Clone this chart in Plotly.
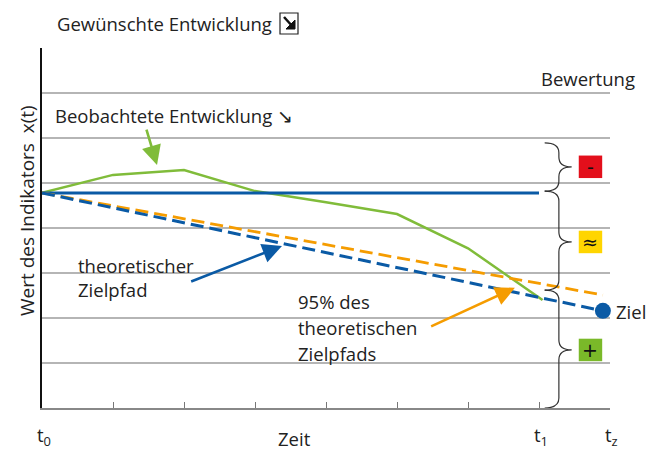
import plotly.graph_objects as go

# ---- data ----
time_obs = [0, 1, 2, 3, 4, 5, 6, 7.05]
observed = [4.78, 5.18, 5.29, 4.82, 4.57, 4.31, 3.55, 2.4]
baseline_x = [0, 7]
baseline_y = [4.78, 4.78]
target_x = [0, 7.9]
target_y = [4.78, 2.16]
target95_y = [4.78, 2.51]
grid_levels = [1, 2, 3, 4, 5, 6, 7, 8]
time_ticks = [0, 1, 2, 3, 4, 5, 6, 7, 8]
brace_ranges = [(5.89, 4.82, 5.36), (4.82, 2.62, 3.69), (2.62, 0.0, 1.29)]
rating_labels = ["-", "≈", "+"]
rating_colors = ["#e30f1b", "#ffd500", "#7ab929"]

FONT = "Open Sans"
FS = 18.5
TXT = "#222222"
BLUE = "#0a5aa5"
GREEN = "#80bc3a"
ORANGE = "#f59c00"

# page has an 8px body margin: convert page pixels to paper coords
OFF = 8
L, T, PW, PH = 42 - OFF, 48 - OFF, 568, 360


def px(xp):
    return (xp - OFF - L) / PW


def py(yp):
    return (T + PH - (yp - OFF)) / PH


fig = go.Figure()

fig.add_trace(go.Scatter(x=time_obs, y=observed, mode="lines",
                         line=dict(color=GREEN, width=2.5), hoverinfo="skip"))
fig.add_trace(go.Scatter(x=baseline_x, y=baseline_y, mode="lines",
                         line=dict(color=BLUE, width=3), hoverinfo="skip"))
fig.add_trace(go.Scatter(x=target_x, y=target95_y, mode="lines",
                         line=dict(color=ORANGE, width=2.8, dash="13px,6px"), hoverinfo="skip"))
fig.add_trace(go.Scatter(x=target_x, y=target_y, mode="lines",
                         line=dict(color=BLUE, width=3, dash="13px,6px"), hoverinfo="skip"))
fig.add_trace(go.Scatter(x=[target_x[-1]], y=[target_y[-1]], mode="markers",
                         marker=dict(color=BLUE, size=16), cliponaxis=False, hoverinfo="skip"))

shapes = []
# braces
xl, xs, xt, r = 7.08, 7.28, 7.46, 0.22
for (ytop, ybot, ymid) in brace_ranges:
    path = (f"M {xl},{ytop} Q {xs},{ytop} {xs},{ytop - r} L {xs},{ymid + r} "
            f"Q {xs},{ymid} {xt},{ymid} Q {xs},{ymid} {xs},{ymid - r} "
            f"L {xs},{ybot + r} Q {xs},{ybot} {xl},{ybot}")
    shapes.append(dict(type="path", path=path, xref="x", yref="y",
                       line=dict(color="#333333", width=1.2)))

annotations = []
# rating boxes
bw, bh = 0.33, 0.5
for (ytop, ybot, ymid), lab, col in zip(brace_ranges, rating_labels, rating_colors):
    shapes.append(dict(type="rect", xref="x", yref="y", x0=7.56, x1=7.56 + bw,
                       y0=ymid - bh / 2, y1=ymid + bh / 2, fillcolor=col, line=dict(width=0)))
    annotations.append(dict(x=7.56 + bw / 2, y=ymid, xref="x", yref="y", text=lab,
                            showarrow=False, font=dict(family="DejaVu Sans", size=19, color="#111")))

# icon box next to title (box + bold down-right arrow)
shapes.append(dict(type="rect", xref="paper", yref="paper",
                   x0=px(280), x1=px(298), y0=py(34), y1=py(13),
                   line=dict(color="#222", width=1.2), fillcolor="white"))
shapes.append(dict(type="path", xref="paper", yref="paper",
                   path=f"M {px(284)},{py(17)} L {px(293)},{py(27)}",
                   line=dict(color="#111", width=2.5)))
shapes.append(dict(type="path", xref="paper", yref="paper",
                   path=f"M {px(295)},{py(29)} L {px(295)},{py(20)} L {px(286)},{py(29)} Z",
                   fillcolor="#111", line=dict(color="#111", width=1)))


def ann(text, xp, yp, xanchor="left", size=FS, **kw):
    annotations.append(dict(xref="paper", yref="paper", x=px(xp), y=py(yp),
                            text=text, showarrow=False, xanchor=xanchor, yanchor="middle",
                            font=dict(family=FONT, size=size, color=TXT), **kw))


ann("Gewünschte Entwicklung", 55, 23)
ann("Bewertung", 637, 78, xanchor="right")
ann("Beobachtete Entwicklung ↘", 53, 115)
ann("theoretischer", 76, 265)
ann("Zielpfad", 76, 289)
ann("95% des", 296, 301)
ann("theoretischen", 296, 327)
ann("Zielpfads", 296, 353)
ann("Ziel", 614, 311)
ann("Zeit", 294, 439, xanchor="center")
ann("t<sub>0</sub>", 44, 436, xanchor="center")
ann("t<sub>1</sub>", 541, 436, xanchor="center")
ann("t<sub>z</sub>", 611, 436, xanchor="center")
annotations.append(dict(xref="paper", yref="paper", x=px(27), y=py(211),
                        xanchor="center", yanchor="middle",
                        text="Wert des Indikators  x(t)", textangle=-90, showarrow=False,
                        font=dict(family=FONT, size=19, color=TXT)))

# arrows
for (tx, ty, hx, hy, col) in [(1.465, 6.22, 1.62, 5.4, GREEN),
                              (2.08, 2.8, 3.38, 3.6, BLUE),
                              (5.46, 1.8, 6.66, 2.67, ORANGE)]:
    annotations.append(dict(x=hx, y=hy, ax=tx, ay=ty, xref="x", yref="y", axref="x", ayref="y",
                            text="", showarrow=True, arrowhead=2, arrowsize=1.5,
                            arrowwidth=2.6, arrowcolor=col))

fig.update_layout(
    width=663 - OFF, height=450 - OFF,
    margin=dict(l=L, r=663 - OFF - L - PW, t=T, b=450 - OFF - T - PH, pad=0),
    paper_bgcolor="white", plot_bgcolor="white",
    showlegend=False,
    shapes=shapes, annotations=annotations,
    xaxis=dict(range=[0, 8], tickvals=time_ticks, showticklabels=False, ticks="inside",
               ticklen=6, tickcolor="#777", tickwidth=1.2, showgrid=False, zeroline=False,
               showline=True, linecolor="#888", linewidth=2, fixedrange=True),
    yaxis=dict(range=[0, 8], tickvals=grid_levels, showticklabels=False, ticks="",
               showgrid=True, gridcolor="#b5b5b5", gridwidth=1.5, zeroline=False,
               showline=True, linecolor="#111", linewidth=1.5, fixedrange=True),
)

fig.write_html("out.html")
